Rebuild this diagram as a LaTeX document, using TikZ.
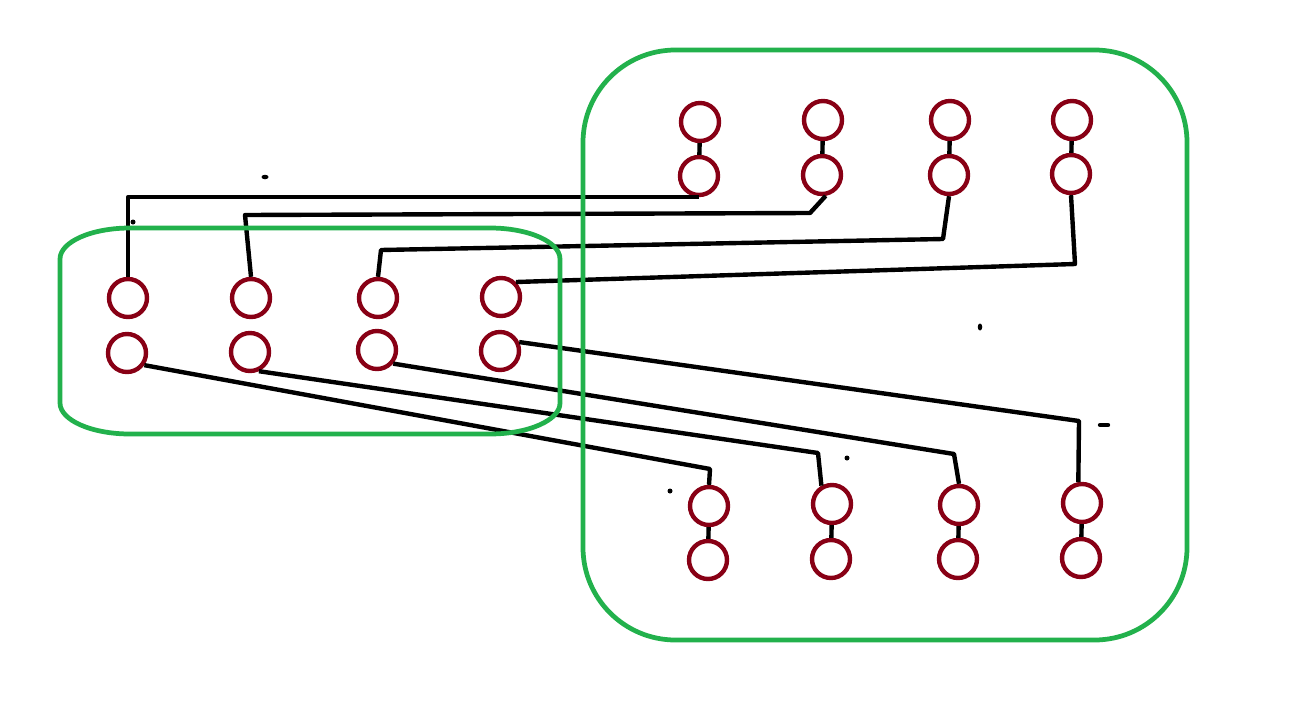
\documentclass[tikz,border=0pt]{standalone}
\usepackage{xcolor}
\usepackage{tikz}
\definecolor{ringred}{HTML}{880015}
\definecolor{boxgreen}{HTML}{22B14C}

\begin{document}
\begin{tikzpicture}[x=0.02cm, y=-0.02cm,
    ring/.style={circle, draw=ringred, line width=2.5pt, minimum size=0.76cm, inner sep=0pt},
    wire/.style={line width=2.5pt, line join=round},
    greenbox/.style={draw=boxgreen, line width=2.7pt}]
    \useasboundingbox (0,0) rectangle (1311,710);

    % left group
    \node[ring] (l1a) at (128,298) {};
    \node[ring] (l2a) at (251,298) {};
    \node[ring] (l3a) at (378,298) {};
    \node[ring] (l4a) at (501,297) {};
    \node[ring] (l1b) at (127,353) {};
    \node[ring] (l2b) at (250,352) {};
    \node[ring] (l3b) at (377,350) {};
    \node[ring] (l4b) at (500,351) {};

    % right group, top pairs
    \node[ring] (t1a) at (700,122) {};
    \node[ring] (t1b) at (699,176) {};
    \node[ring] (t2a) at (823,120) {};
    \node[ring] (t2b) at (822,175) {};
    \node[ring] (t3a) at (950,120) {};
    \node[ring] (t3b) at (949,175) {};
    \node[ring] (t4a) at (1072,120) {};
    \node[ring] (t4b) at (1071,174) {};

    % right group, bottom pairs
    \node[ring] (b1a) at (709,506) {};
    \node[ring] (b1b) at (708,560) {};
    \node[ring] (b2a) at (832,504) {};
    \node[ring] (b2b) at (831,559) {};
    \node[ring] (b3a) at (959,505) {};
    \node[ring] (b3b) at (958,559) {};
    \node[ring] (b4a) at (1082,503) {};
    \node[ring] (b4b) at (1081,558) {};

    \draw[wire] (t1a) -- (t1b); \draw[wire] (t2a) -- (t2b);
    \draw[wire] (t3a) -- (t3b); \draw[wire] (t4a) -- (t4b);
    \draw[wire] (b1a) -- (b1b); \draw[wire] (b2a) -- (b2b);
    \draw[wire] (b3a) -- (b3b); \draw[wire] (b4a) -- (b4b);

    % upper links
    \draw[wire] (t1b.south) -| (l1a.north);
    \draw[wire] (t2b.-80) -- (810,213) -- (245,215) -- (l2a.north);
    \draw[wire] (t3b.south) -- (943,239) -- (381,250) -- (l3a.north);
    \draw[wire] (t4b.south) -- (1075,264) -- (l4a.45);

    % lower links
    \draw[wire] (l1b.-35) -- (710,469) -- (b1a.north);
    \draw[wire] (l2b.-65) -- (818,453) -- (b2a.120);
    \draw[wire] (l3b.-40) -- (954,454) -- (b3a.north);
    \draw[wire] (l4b.25) -- (1079,421) -- (b4a.100);

    % specks
    \fill (265,177) ellipse [x radius=0.07cm, y radius=0.045cm];
    \fill (133,222) circle [radius=0.05cm];
    \fill (980,327) ellipse [x radius=0.045cm, y radius=0.07cm];
    \fill (847,458) circle [radius=0.05cm];
    \fill (670,491) circle [radius=0.05cm];
    \draw[wire, line cap=round] (1100,425) -- (1108,425);

    % groups
    \draw[greenbox] (130,228) -- (490,228)
        arc[start angle=90, end angle=0, x radius=1.4cm, y radius=0.62cm] -- (560,403)
        arc[start angle=0, end angle=-90, x radius=1.4cm, y radius=0.62cm] -- (130,434)
        arc[start angle=270, end angle=180, x radius=1.4cm, y radius=0.62cm] -- (60,259)
        arc[start angle=180, end angle=90, x radius=1.4cm, y radius=0.62cm] -- cycle;
    \draw[greenbox, rounded corners=1.85cm] (583,50) rectangle (1187,640);
\end{tikzpicture}
\end{document}
